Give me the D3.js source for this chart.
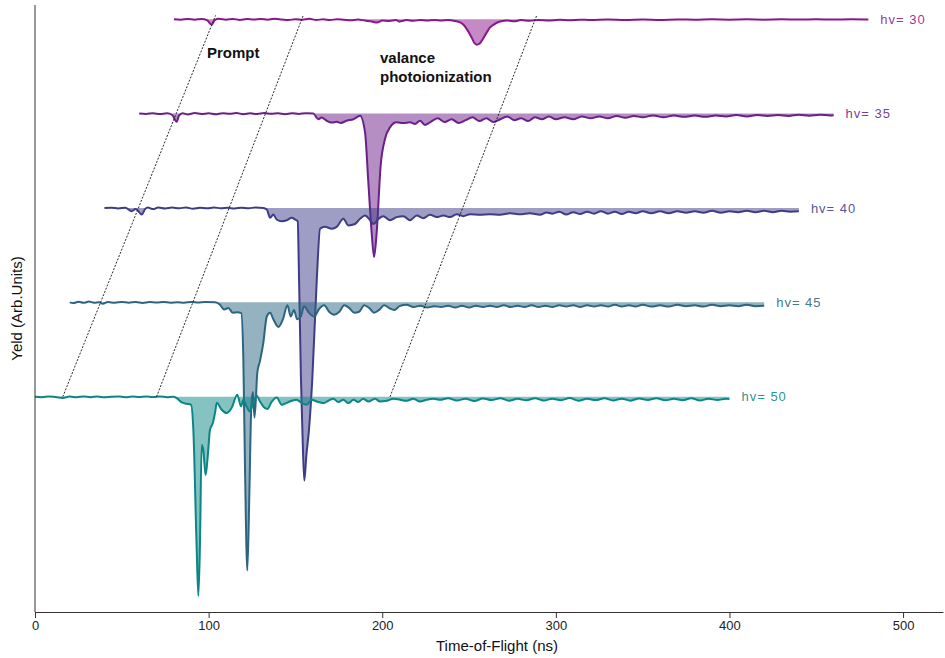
<!DOCTYPE html>
<html>
<head>
<meta charset="utf-8">
<script src="https://cdn.jsdelivr.net/npm/d3@7"></script>
<style>
  body { margin: 0; background: #fff; }
  svg { display: block; }
  .axis text { font-family: "Liberation Sans Narrow", "Arial Narrow", sans-serif; font-size: 13px; fill: #222; }
  .axis path, .axis line { stroke: #333; }
  .title { font-family: "Liberation Sans Narrow", "Arial Narrow", sans-serif; font-size: 15px; fill: #111; }
  .note { font-family: "Liberation Sans", Arial, sans-serif; font-size: 15px; font-weight: bold; fill: #111; }
  .hv { font-family: "Liberation Sans", Arial, sans-serif; font-size: 13px; letter-spacing: 1px; }
</style>
</head>
<body>
<div id="chart"></div>
<script>
// photon energies, one trace each, stacked with a vertical offset
var hvValues = [30, 35, 40, 45, 50];
var offsets = [400, 300, 200, 100, 0];
var colors = ["#8b168c", "#6b1f8a", "#3e3c87", "#2c6582", "#0b8585"];
var xTicks = [0, 100, 200, 300, 400, 500];

// [time-of-flight (ns), yield (arb.)]
var tof30 = [[80,0],[84,-0.5],[88,0.3],[92,-0.6],[96,0.2],[99,-1],[101.8,-6],[103.5,-1],[106,0.4],[110,-0.5],[114,0.3],[118,-0.8],[122,0.2],[126,-0.4],[130,0.3],[134,-0.6],[138,0.4],[142,-0.3],[146,-1],[150,0],[154,-0.5],[158,0.4],[162,-0.8],[166,-0.2],[170,-1],[174,0],[178,-0.6],[182,-1.2],[186,-0.4],[190,-1.5],[194,-2.5],[197,-3.5],[200,-1.5],[204,-2],[208,-1],[210,-2.5],[214,-1],[218,-1.8],[222,-0.8],[226,-1.5],[230,-0.8],[234,-1.4],[238,-0.8],[242,-2],[244.8,-3.5],[246.8,-6],[248.7,-10.6],[251.5,-19.4],[253,-25],[254.4,-27],[256,-26],[257.3,-23],[260.2,-14],[262,-9],[264,-6],[267.9,-2.5],[272,-1.5],[276,-2.2],[280,-1],[285,-1.8],[290,-0.8],[296,-1.5],[302,-0.6],[308,-1.2],[314,-0.5],[320,-1],[330,-0.4],[340,-0.9],[350,-0.3],[360,-0.8],[370,-0.3],[380,-0.6],[390,-0.2],[400,-0.5],[410,-0.2],[420,-0.5],[430,-0.2],[440,-0.4],[450,-0.1],[460,-0.4],[470,-0.2],[480,-0.3]];

var tof35 = [[60,0],[64,-0.4],[68,0.3],[72,-0.5],[76,0.2],[79,-1.5],[81.6,-8.7],[83,-2],[85,0.4],[88,-1],[92,0.5],[96,-0.5],[100,0.3],[104,-0.8],[108,0.4],[112,-0.3],[116,0.5],[120,-0.6],[124,0.2],[128,-0.4],[132,0.5],[136,-0.3],[140,0.2],[144,-0.7],[148,0.3],[152,-0.4],[156,0.3],[160.3,0],[163.2,-6],[165.1,-4.2],[168,-7.6],[170.9,-9.5],[173.8,-8.7],[176.1,-10],[179.5,-7.6],[183.4,-6],[187.2,-2.3],[190.1,-20],[192,-73],[193.9,-126],[195.3,-152],[196.8,-126],[199.1,-55],[201.6,-27],[204.5,-14.6],[208.3,-9.3],[212.2,-10],[216,-9.3],[218.9,-11],[221.8,-7.6],[224.6,-12],[227.5,-9.3],[232,-5],[236,-9],[240,-6],[244,-10],[248,-7],[252,-4],[256,-8],[260,-5],[264,-9],[268,-6],[272,-3],[276,-7],[280,-5],[284,-8],[288,-4],[292,-6],[296,-3],[300,-6],[305,-4],[310,-6],[315,-3],[320,-5],[325,-3],[330,-5],[335,-2.5],[340,-4.5],[345,-2.5],[350,-4],[356,-2],[362,-4],[368,-2],[374,-3.5],[380,-2],[386,-3.5],[392,-2],[398,-3],[404,-1.5],[410,-3],[416,-1.5],[422,-2.5],[428,-1.5],[434,-2.5],[440,-1.2],[446,-2.2],[452,-1.2],[458,-2],[460,-1.8]];

var tof40 = [[40,0],[44,0.3],[48,-0.5],[52,0.2],[55.7,-3.4],[58,-1],[61.5,-7],[63.5,-1],[65,0.5],[68,-1.2],[71,0.5],[75,-0.6],[79,0.4],[83,-0.3],[87,0.5],[91,-0.8],[95,0.2],[99,-0.4],[103,0.5],[107,-0.3],[111,0.2],[115,-0.6],[119,0.3],[123,-0.2],[127,0.4],[131.5,0],[133.5,-1.6],[135.4,-10.4],[137.3,-7],[139.2,-12.2],[142.1,-14],[145,-13],[147.9,-10.4],[149.8,-12.2],[151.3,-14],[152.1,-76],[153.2,-182],[154,-235],[155.1,-289],[156.3,-262],[157.8,-235],[159.7,-182],[162.3,-76],[164.2,-22],[167,-20],[170.9,-22],[173.8,-20],[177.6,-11.5],[180.5,-18.5],[184.3,-17],[187.2,-11.5],[190.1,-8],[193,-13],[195,-17],[197.9,-11.5],[200.6,-8.7],[204.5,-13],[208.3,-9.7],[212.2,-8.7],[216,-13],[219.9,-8],[223.7,-10.8],[227.5,-7.2],[231.4,-9.7],[235.2,-8],[239.1,-9.7],[242.9,-6.6],[246.7,-8.7],[250.6,-6.6],[256.3,-7.2],[262.1,-6.6],[267.9,-7.2],[273.6,-5.5],[279.4,-6.6],[285.1,-5.5],[290.9,-7.2],[294.7,-4.8],[298,-6],[302,-4],[306,-7],[310,-4.5],[314,-6.5],[318,-4],[322,-6],[326,-3.5],[330,-6],[334,-4],[338,-6.5],[342,-4],[346,-5.5],[350,-3.5],[355,-5.5],[360,-3.5],[365,-5.5],[370,-3.5],[375,-5],[380,-3.5],[385,-5],[390,-3],[395,-5],[400,-3.5],[405,-4.5],[410,-3],[415,-4.5],[420,-3],[425,-4.5],[430,-3],[435,-4],[440,-3.5]];

var tof45 = [[20,0],[22,-0.8],[25,0.6],[28,-0.5],[31,0.8],[34,-0.3],[37,0.2],[39,-1.5],[42,0.3],[46,-0.4],[50,0.5],[54,-0.3],[58,0.4],[62,-0.6],[66,0.3],[70,-0.2],[74,0.5],[78,-0.4],[82,0.2],[86,-0.3],[90,0.4],[94,-0.2],[98,0.3],[103.7,0],[106.6,-2.5],[108.9,-7.5],[111.4,-6],[113.9,-11],[116.5,-10.5],[118.8,-11.5],[120,-60],[121,-180],[122.3,-284],[123.5,-200],[124.6,-110],[125.5,-95],[126.4,-122],[127.3,-100],[128,-75],[129.6,-62],[131.5,-43],[133.5,-15],[135.4,-11],[137.3,-18],[140.2,-26],[142.8,-18],[145.4,-3],[147.3,-15],[149.2,-8],[151,-18],[153.1,-15],[155,-4],[157.8,-11],[160.8,-15],[163.6,-7],[166.6,-3],[169.4,-10],[172.3,-13],[175.3,-10],[178.1,-3],[181,-6],[183.9,-11],[186.7,-10],[189.6,-3],[192.5,-6],[195.3,-11],[198.2,-8],[201.1,-3],[204,-6],[207,-8],[210,-4],[214,-2.5],[218,-5],[222,-3.5],[226,-5.5],[230,-4],[234,-5],[238,-3.5],[242,-5.5],[246,-3.5],[250,-5.5],[254,-3.5],[258,-5],[262,-3.5],[266,-5],[270,-3],[274,-5],[278,-3.5],[282,-5],[286,-3],[290,-5],[294,-3.5],[298,-5],[302,-3],[306,-4.5],[310,-3],[314,-5],[318,-3],[322,-4.5],[326,-3],[330,-4.5],[334,-2.5],[338,-4.5],[342,-3],[346,-4.5],[350,-2.5],[355,-4.5],[360,-3],[365,-4.5],[370,-2.5],[375,-4],[380,-3],[385,-4.5],[390,-2.5],[395,-4],[400,-3],[405,-4],[410,-2.5],[415,-4],[420,-3.5]];

var tof50 = [[0,0],[4,-0.5],[8,0.4],[12,-0.3],[16,-1.2],[20,0.2],[24,-0.5],[28,0.3],[32,-0.4],[36,0.2],[40,-0.6],[44,0],[48,0.3],[52,-0.5],[56,0.2],[60,-0.3],[64,0.4],[68,-0.2],[72,0.3],[76,-0.4],[79.5,0],[81.6,-1.4],[84.5,-6],[87.4,-7.4],[89.9,-8.5],[91.2,-35],[93.1,-159],[94.1,-211],[95,-158],[96,-51],[96.9,-56],[98.3,-83],[99.5,-63],[100.8,-35],[102.4,-28],[103.7,-17],[104.7,-6.4],[107.5,-13.8],[110.4,-17.3],[113.3,-11.7],[116.5,2.1],[118.7,-10.3],[120,-3.2],[121.9,-10.3],[123.8,-15.6],[125.7,-6.4],[127.7,1.1],[129.6,-5],[131.5,-10.3],[133.8,-13],[136.3,-5.3],[139.2,-0.7],[142.1,-8.5],[145,-6.4],[147.9,-4.2],[150.7,-3.2],[153.6,-6.7],[156.5,-8.5],[159.4,-3.2],[162.3,-5],[166.1,-6.7],[169,-4.2],[171.8,-2.1],[174.7,-5.6],[177.6,-3.2],[180.5,-6.7],[183.4,-3.2],[186.2,-5.6],[189.1,-2.1],[192,-5],[195.9,-2.1],[198.7,-5],[202.6,-4.2],[206.4,-2.1],[210.3,-3.2],[214.1,-4.2],[217.9,-2.1],[221.8,-5],[225.6,-3.2],[229.4,-2.1],[233.3,-3.2],[238,-1.5],[243,-4],[248,-2],[253,-4.5],[258,-1.8],[263,-3.5],[268,-1.5],[273,-4.2],[278,-2.2],[283,-3.8],[288,-1.6],[293,-4],[298,-2],[303,-3.6],[308,-1.4],[313,-4.3],[318,-2.1],[323,-3.5],[328,-1.7],[333,-3.9],[338,-2],[343,-4.1],[348,-1.8],[353,-3.4],[358,-1.5],[363,-3.8],[368,-2.2],[373,-3.6],[378,-1.6],[383,-4],[388,-2],[393,-3.5],[398,-2],[400,-2.5]];

var traces = [tof30, tof35, tof40, tof45, tof50];

// guide lines: [tof at hv=50 baseline, tof at hv=30 baseline]
var guides = [[16, 104], [70, 154.5], [204.5, 289]];

var width = 945, height = 658;
var margin = {top: 5, right: 2, bottom: 46, left: 35};

var svg = d3.select("#chart").append("svg")
    .attr("width", width)
    .attr("height", height);

var x = d3.scaleLinear()
    .domain([0, 523])
    .range([margin.left, width - margin.right]);

var y = d3.scaleLinear()
    .domain([-228, 415])
    .range([height - margin.bottom, margin.top]);

// traces, top one first
traces.forEach(function (data, i) {
    var off = offsets[i];
    var area = d3.area()
        .curve(d3.curveMonotoneX)
        .x(function (d) {return x(d[0]);})
        .y0(y(off))
        .y1(function (d) {return y(off + d[1]);});
    var line = d3.line()
        .curve(d3.curveMonotoneX)
        .x(function (d) {return x(d[0]);})
        .y(function (d) {return y(off + d[1]);});

    svg.append("path")
        .datum(data)
        .attr("d", area)
        .attr("fill", colors[i])
        .attr("fill-opacity", 0.5);

    svg.append("path")
        .datum(data)
        .attr("d", line)
        .attr("fill", "none")
        .attr("stroke", colors[i])
        .attr("stroke-width", 2)
        .attr("stroke-linejoin", "round");

    var last = data[data.length - 1][0];
    svg.append("text")
        .attr("class", "hv")
        .attr("x", x(last) + 12)
        .attr("y", y(off))
        .attr("dy", "0.35em")
        .attr("fill", colors[i])
        .attr("fill-opacity", 0.9)
        .text("hv= " + hvValues[i]);
});

// dashed guides across the stack
svg.selectAll(".guide")
    .data(guides)
    .enter()
    .append("line")
    .attr("class", "guide")
    .attr("x1", function (d) {return x(d[0]);})
    .attr("y1", y(0))
    .attr("x2", function (d) {return x(d[1]);})
    .attr("y2", y(404))
    .attr("stroke", "#111")
    .attr("stroke-width", 0.9)
    .attr("stroke-dasharray", "2,1.5");

svg.append("text").attr("class", "note").attr("x", 207).attr("y", 58).text("Prompt");
svg.append("text").attr("class", "note").attr("x", 380).attr("y", 63).text("valance");
svg.append("text").attr("class", "note").attr("x", 380).attr("y", 82).text("photoionization");

// axes
svg.append("g")
    .attr("class", "axis")
    .attr("transform", "translate(0," + (height - margin.bottom) + ")")
    .call(d3.axisBottom(x).tickValues(xTicks).tickSize(6).tickSizeOuter(0).tickFormat(d3.format("d")));

svg.append("line")
    .attr("x1", margin.left).attr("x2", margin.left)
    .attr("y1", margin.top).attr("y2", height - margin.bottom)
    .attr("stroke", "#333");

svg.append("text")
    .attr("class", "title")
    .attr("x", 497)
    .attr("y", 651)
    .attr("text-anchor", "middle")
    .text("Time-of-Flight (ns)");

svg.append("text")
    .attr("class", "title")
    .attr("transform", "translate(22," + ((margin.top + height - margin.bottom) / 2) + ") rotate(-90)")
    .attr("text-anchor", "middle")
    .text("Yeld (Arb.Units)");
</script>
</body>
</html>
